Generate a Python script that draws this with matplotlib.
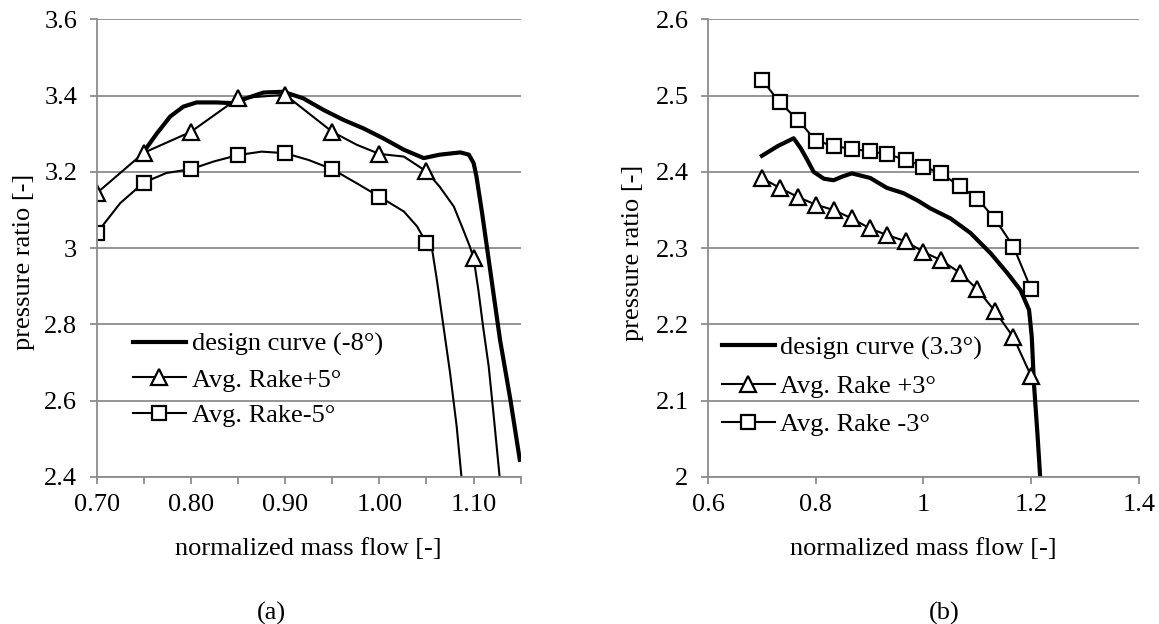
import matplotlib
matplotlib.use("Agg")
import matplotlib.pyplot as plt
from matplotlib.ticker import FixedLocator, FixedFormatter

plt.rcParams['font.family'] = ['Liberation Serif', 'DejaVu Serif']

# ---- (a) left chart ----
a_xticks = [0.70, 0.80, 0.90, 1.00, 1.10]
a_xticklabels = ['0.70', '0.80', '0.90', '1.00', '1.10']
a_xminor = [0.75, 0.85, 0.95, 1.05, 1.15]
a_yticks = [2.4, 2.6, 2.8, 3.0, 3.2, 3.4, 3.6]
a_yticklabels = ['2.4', '2.6', '2.8', '3', '3.2', '3.4', '3.6']

a_design_x = [0.75, 0.764, 0.778, 0.792, 0.806, 0.827, 0.845, 0.859, 0.877, 0.898, 0.919,
              0.941, 0.962, 0.983, 1.004, 1.026, 1.047, 1.064, 1.086, 1.095, 1.100, 1.103,
              1.109, 1.118, 1.128, 1.139, 1.149]
a_design_y = [3.253, 3.301, 3.345, 3.371, 3.382, 3.382, 3.380, 3.393, 3.408, 3.410, 3.393,
              3.362, 3.336, 3.314, 3.288, 3.258, 3.236, 3.245, 3.251, 3.245, 3.223, 3.188,
              3.092, 2.935, 2.760, 2.603, 2.445]

a_p5_x = [0.70, 0.75, 0.80, 0.85, 0.90, 0.95, 0.976, 1.00, 1.026, 1.05, 1.064, 1.079,
          1.089, 1.096, 1.10, 1.105, 1.110, 1.116, 1.121, 1.128]
a_p5_y = [3.144, 3.250, 3.305, 3.393, 3.402, 3.305, 3.271, 3.247, 3.240, 3.201, 3.161, 3.109,
          3.048, 3.004, 2.974, 2.891, 2.795, 2.690, 2.568, 2.39]
a_p5_marks = [0, 1, 2, 3, 4, 5, 7, 9, 14]

a_m5_x = [0.70, 0.725, 0.75, 0.774, 0.80, 0.824, 0.85, 0.875, 0.90, 0.925, 0.95, 0.976,
          1.00, 1.026, 1.040, 1.05, 1.056, 1.061, 1.068, 1.075, 1.082, 1.0875]
a_m5_y = [3.039, 3.118, 3.172, 3.197, 3.207, 3.227, 3.244, 3.253, 3.249, 3.231, 3.207, 3.170,
          3.135, 3.096, 3.057, 3.013, 2.996, 2.917, 2.795, 2.673, 2.533, 2.39]
a_m5_marks = [0, 2, 4, 6, 8, 10, 12, 15]

# ---- (b) right chart ----
b_xticks = [0.6, 0.8, 1.0, 1.2, 1.4]
b_xticklabels = ['0.6', '0.8', '1', '1.2', '1.4']
b_yticks = [2.0, 2.1, 2.2, 2.3, 2.4, 2.5, 2.6]
b_yticklabels = ['2', '2.1', '2.2', '2.3', '2.4', '2.5', '2.6']

b_design_x = [0.700, 0.730, 0.759, 0.772, 0.784, 0.796, 0.815, 0.833, 0.850, 0.867, 0.901,
              0.932, 0.963, 0.990, 1.013, 1.050, 1.087, 1.125, 1.156, 1.180, 1.196, 1.201,
              1.205, 1.2115, 1.217]
b_design_y = [2.421, 2.434, 2.444, 2.431, 2.416, 2.400, 2.391, 2.389, 2.394, 2.398, 2.392,
              2.379, 2.372, 2.362, 2.352, 2.339, 2.320, 2.293, 2.267, 2.245, 2.219, 2.184,
              2.123, 2.057, 1.996]

b_x = [0.700, 0.733, 0.767, 0.800, 0.833, 0.867, 0.900, 0.933,
       0.967, 1.000, 1.033, 1.067, 1.100, 1.133, 1.167, 1.200]
b_p3_y = [2.392, 2.379, 2.367, 2.357, 2.350, 2.339, 2.326, 2.317,
          2.309, 2.295, 2.284, 2.268, 2.246, 2.217, 2.183, 2.132]
b_m3_y = [2.521, 2.491, 2.468, 2.441, 2.434, 2.430, 2.427, 2.423,
          2.416, 2.407, 2.398, 2.381, 2.365, 2.338, 2.302, 2.246]

FS = 19
GRAY = '#8c8c8c'

fig = plt.figure(figsize=(11.59, 6.24), dpi=100)
axA = fig.add_axes([0.0834, 0.2356, 0.3659, 0.7335])
axB = fig.add_axes([0.6109, 0.2356, 0.3718, 0.7335])


def style(ax):
    for s in ['top', 'right']:
        ax.spines[s].set_visible(False)
    for s in ['left', 'bottom']:
        ax.spines[s].set_color(GRAY)
        ax.spines[s].set_linewidth(1.3)
    ax.yaxis.grid(True, color=GRAY, linewidth=1.3)
    ax.set_axisbelow(True)
    ax.tick_params(which='both', direction='out', length=5, width=1.3, color=GRAY,
                   labelsize=FS)
    ax.tick_params(axis='y', pad=9)
    ax.tick_params(axis='x', pad=7)
    ax.set_xlabel('normalized mass flow [-]', fontsize=FS, labelpad=16)
    ax.set_ylabel('pressure ratio [-]', fontsize=FS)


mk = dict(markerfacecolor='white', markeredgecolor='black', markeredgewidth=1.6)

# left
axA.plot(a_design_x, a_design_y, color='black', lw=3, label='design curve (-8°)')
axA.plot(a_p5_x, a_p5_y, color='black', lw=1.5, marker='^', markersize=11,
         markevery=a_p5_marks, label='Avg. Rake+5°', **mk)
axA.plot(a_m5_x, a_m5_y, color='black', lw=1.5, marker='s', markersize=9.5,
         markevery=a_m5_marks, label='Avg. Rake-5°', **mk)
axA.set_xlim(0.70, 1.15)
axA.set_ylim(2.4, 3.6)
axA.xaxis.set_major_locator(FixedLocator(a_xticks))
axA.xaxis.set_major_formatter(FixedFormatter(a_xticklabels))
axA.xaxis.set_minor_locator(FixedLocator(a_xminor))
axA.yaxis.set_major_locator(FixedLocator(a_yticks))
axA.yaxis.set_major_formatter(FixedFormatter(a_yticklabels))
style(axA)
axA.yaxis.set_label_coords(-0.146, 0.47)
axA.legend(loc='upper left', bbox_to_anchor=(0.0856, 0.316), frameon=False, fontsize=FS,
           handlelength=2.0, handletextpad=0.22, labelspacing=0.45, borderpad=0,
           borderaxespad=0)

# right
axB.plot(b_design_x, b_design_y, color='black', lw=3, label='design curve (3.3°)')
axB.plot(b_x, b_p3_y, color='black', lw=1.5, marker='^', markersize=11,
         label='Avg. Rake +3°', **mk)
axB.plot(b_x, b_m3_y, color='black', lw=1.5, marker='s', markersize=9.5,
         label='Avg. Rake -3°', **mk)
axB.set_xlim(0.6, 1.4)
axB.set_ylim(2.0, 2.6)
axB.xaxis.set_major_locator(FixedLocator(b_xticks))
axB.xaxis.set_major_formatter(FixedFormatter(b_xticklabels))
axB.yaxis.set_major_locator(FixedLocator(b_yticks))
axB.yaxis.set_major_formatter(FixedFormatter(b_yticklabels))
style(axB)
axB.yaxis.set_label_coords(-0.148, 0.489)
axB.legend(loc='upper left', bbox_to_anchor=(0.032, 0.308), frameon=False, fontsize=FS,
           handlelength=2.0, handletextpad=0.22, labelspacing=0.55, borderpad=0,
           borderaxespad=0)

fig.text(271 / 1159, 1 - 613 / 624, '(a)', fontsize=FS, ha='center', va='center')
fig.text(944 / 1159, 1 - 613 / 624, '(b)', fontsize=FS, ha='center', va='center')

fig.savefig('out.png', dpi=100)
